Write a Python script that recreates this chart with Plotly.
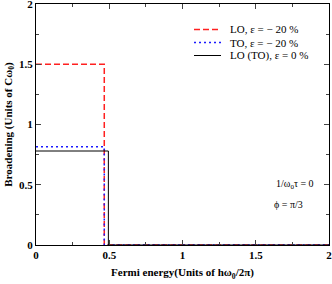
import plotly.graph_objects as go

# data
lo_x = [0, 0.466, 0.466, 2]
lo_y = [1.5, 1.5, 0, 0]
to_x = [0, 0.466, 0.466, 2]
to_y = [0.815, 0.815, 0, 0]
lo0_x = [0, 0.494, 0.494, 2]
lo0_y = [0.78, 0.78, 0, 0]
tick_vals = [0, 0.5, 1, 1.5, 2]
tick_text = ["0", "0.5", "1", "1.5", "2"]
names = ["LO, ε = − 20 %", "TO, ε = − 20 %", "LO (TO), ε = 0 %"]
colors = ["#ff2020", "#1a1aff", "black"]
dashes = ["6px,3px", "2px,3px", "solid"]
widths = [1.5, 1.5, 1]

FONT = "Liberation Serif"
W, H = 332, 284
L, R, T, B = 36, 3, 4, 39

fig = go.Figure()
for xs, ys, n, c, d, w in zip([lo_x, to_x, lo0_x], [lo_y, to_y, lo0_y], names, colors, dashes, widths):
    fig.add_trace(go.Scatter(x=xs, y=ys, mode="lines", name=n, showlegend=False,
                             line=dict(color=c, width=w, dash=d)))

# manual compact legend (paper coords)
pw, ph = W - L - R, H - T - B
def px2x(p):
    return (p - L) / pw
def py2y(p):
    return (H - B - p) / ph
for i, (n, c, d, w) in enumerate(zip(names, colors, dashes, widths)):
    yy = py2y(29.5 + 13 * i)
    fig.add_shape(type="line", xref="paper", yref="paper",
                  x0=px2x(194), x1=px2x(221), y0=yy, y1=yy,
                  line=dict(color=c, width=w, dash=d))
    fig.add_annotation(x=px2x(228), y=yy, xref="paper", yref="paper",
                       xanchor="left", yanchor="middle", text=n, showarrow=False,
                       font=dict(family=FONT, size=11, color="black"))

axis_common = dict(
    showline=True, linecolor="black", linewidth=1, mirror="ticks",
    ticks="inside", ticklen=5, tickcolor="#444", tickwidth=1,
    minor=dict(ticks="inside", ticklen=3, tickcolor="#444", dtick=0.25),
    showgrid=False, zeroline=False, automargin=False,
    tickvals=tick_vals, ticktext=tick_text, ticklabeloverflow="allow",
    tickfont=dict(family=FONT, size=11, color="black", weight="bold"),
)

fig.update_xaxes(range=[0, 2], **axis_common,
                 title=dict(text="<b>Fermi energy(Units of hω<sub>0</sub>/2π)</b>",
                            font=dict(family=FONT, size=11, color="black"), standoff=8))
fig.update_yaxes(range=[0, 2], **axis_common,
                 title=dict(text="<b>Broadening (Units of Cω<sub>0</sub>)</b>",
                            font=dict(family=FONT, size=11, color="black"), standoff=4))

fig.add_annotation(x=0.956, y=0.253, xref="paper", yref="paper", xanchor="right", yanchor="middle",
                   text="1/ω<sub>0</sub>τ = 0", showarrow=False,
                   font=dict(family=FONT, size=10, color="black"))
fig.add_annotation(x=0.805, y=0.17, xref="paper", yref="paper", xanchor="left", yanchor="middle",
                   text="ϕ = π/3", showarrow=False,
                   font=dict(family=FONT, size=10, color="black"))

fig.update_layout(
    width=W, height=H,
    margin=dict(l=L, r=R, t=T, b=B, autoexpand=False),
    plot_bgcolor="white", paper_bgcolor="white",
    showlegend=False,
)

fig.write_html("out.html", config={"displayModeBar": False})

# remove default browser body margin so the figure sits at the window's corner
with open("out.html", encoding="utf-8") as f:
    html = f.read()
html = html.replace("<head>", "<head><style>html,body{margin:0;padding:0;overflow:hidden}</style>", 1)
with open("out.html", "w", encoding="utf-8") as f:
    f.write(html)
